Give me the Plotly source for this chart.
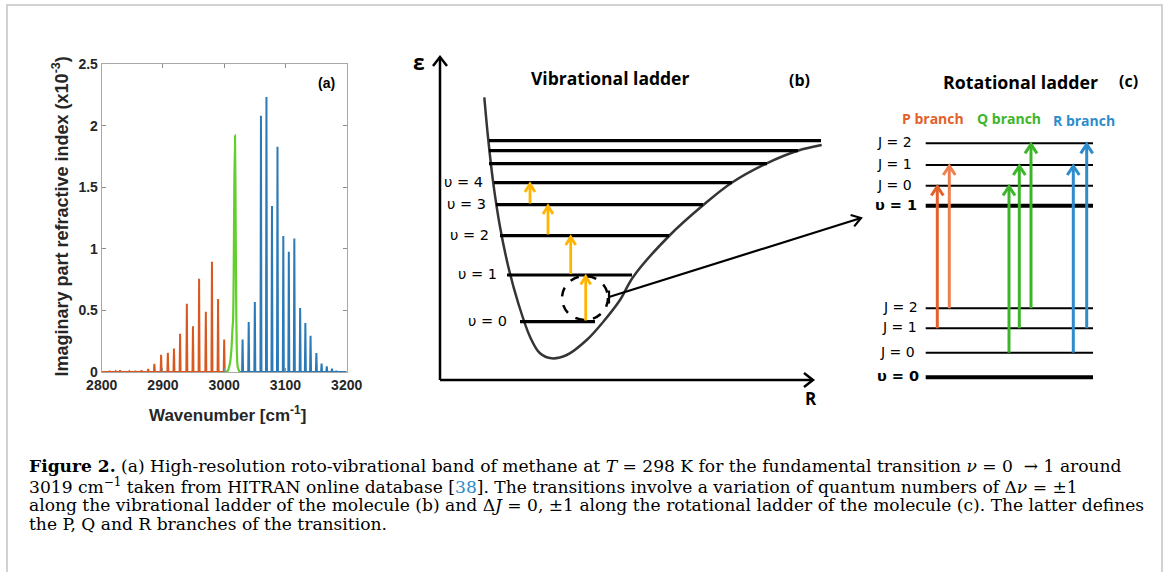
import plotly.graph_objects as go

W, H = 1167, 572

# ---------------- Panel (a) data : spectrum ----------------
p_branch_wn = [2813, 2823, 2830, 2845, 2855, 2865, 2876, 2886, 2897, 2908, 2918, 2928,
               2939, 2949, 2959, 2970, 2980, 2990, 3000]
p_branch_int = [0.008, 0.006, 0.015, 0.006, 0.01, 0.015, 0.025, 0.067, 0.14, 0.155, 0.19,
                0.31, 0.553, 0.371, 0.756, 0.489, 0.895, 0.593, 0.264]
q_branch_wn = [3003, 3006, 3008, 3010, 3012, 3013.5, 3014.5, 3015.5, 3016.5, 3017.6,
               3018.5, 3019.5, 3020.5, 3022, 3025]
q_branch_int = [0, 0.01, 0.04, 0.09, 0.2, 0.35, 0.42, 0.8, 1.5, 1.92, 1.4, 0.6, 0.2, 0.04, 0]
r_branch_wn = [3030, 3040, 3050, 3060, 3069, 3078, 3087, 3096.5, 3105.5, 3114.5, 3124,
               3132.5, 3141, 3150.5, 3159, 3167.5, 3176, 3183]
r_branch_int = [0.263, 0.406, 0.569, 2.079, 2.233, 1.347, 1.829, 1.103, 0.976, 1.084, 0.52,
                0.398, 0.295, 0.154, 0.068, 0.046, 0.027, 0.01]
x_ticks = [2800, 2900, 3000, 3100, 3200]
y_ticks = [0, 0.5, 1, 1.5, 2, 2.5]
y_tick_text = ["0", "0.5", "1", "1.5", "2", "2.5"]

# ---------------- Panel (b) data : vibrational ladder (pixel units) ----------------
curve_x = [484.3, 488.3, 493.3, 500, 508.3, 518.3, 530, 540, 551.7, 566.7, 586.7, 603.3,
           620, 633.3, 670, 703.3, 731.7, 766.7, 797.7, 821.7]
curve_y = [97.3, 140, 183.3, 226.7, 266.7, 303.3, 336.7, 353.3, 358.3, 355, 340, 321.7,
           300, 276.7, 235, 205, 182.7, 163.3, 150.7, 145]
vib_level_y = [321.7, 275, 235.7, 204.7, 182.7, 163.7, 150.7, 140.7]
vib_level_x0 = [520, 507, 500, 496, 494, 489, 489, 489]
vib_level_x1 = [595, 632, 669, 703, 732, 767, 798, 821]
vib_labels = ["υ = 0", "υ = 1", "υ = 2", "υ = 3", "υ = 4"]
vib_label_x = [509, 499, 491, 488, 485]
vib_arrow_x = [585.7, 570.7, 548, 530]
vib_arrow_y0 = [320.5, 274, 234.5, 203.5]
vib_arrow_y1 = [276.5, 237, 206, 184]

# ---------------- Panel (c) data : rotational ladder (pixel units) ----------------
rot_level_y = [143.3, 165, 185.7, 205.7, 308.3, 328.3, 352.7, 377.3]
rot_labels = ["J = 2", "J = 1", "J = 0", "υ = 1", "J = 2", "J = 1", "J = 0", "υ = 0"]
rot_label_x = [914, 914, 914, 919, 920, 919, 917, 921]
rot_level_w = [2, 2, 2, 4, 2, 2, 2, 4]
rot_x0, rot_x1 = 925.7, 1093
rot_arrow_x = [937.3, 949.3, 1009, 1019.3, 1031, 1073.3, 1086.7]
rot_arrow_y0 = [328.3, 308.3, 352.7, 328.3, 308.3, 352.7, 328.3]
rot_arrow_y1 = [186.5, 166, 186.5, 166, 144.3, 166, 144.3]
rot_arrow_c = ["#e2612a", "#ee8050", "#3db52a", "#3db52a", "#3db52a", "#2f8ccb", "#2f8ccb"]
branch_names = ["P branch", "Q branch", "R branch"]
branch_x = [932.7, 1009, 1084]
branch_y = [118.3, 118.3, 120]
branch_c = ["#e2612a", "#3db52a", "#2f8ccb"]

ORANGE, GREEN, BLUE = "#d8581f", "#62cf2a", "#2b79b6"


def stick_spectrum(xs, ys, start, end, hw=0.8):
    px, py = [start], [0]
    for x, y in zip(xs, ys):
        px += [x - hw, x, x + hw]
        py += [0, y, 0]
    px.append(end)
    py.append(0)
    return px, py


fig = go.Figure()

ox, oy = stick_spectrum(p_branch_wn, p_branch_int, 2800, 3004)
fig.add_trace(go.Scatter(x=ox, y=oy, mode="lines", line=dict(color=ORANGE, width=2),
                         xaxis="x", yaxis="y", showlegend=False))
bx, by = stick_spectrum(r_branch_wn, r_branch_int, 3024, 3200)
fig.add_trace(go.Scatter(x=bx, y=by, mode="lines", line=dict(color=BLUE, width=2),
                         xaxis="x", yaxis="y", showlegend=False))
fig.add_trace(go.Scatter(x=q_branch_wn, y=q_branch_int, mode="lines",
                         line=dict(color=GREEN, width=2.2, shape="spline", smoothing=0.6),
                         xaxis="x", yaxis="y", showlegend=False))


def chevron_arrows(x0s, y0s, x1s, y1s, hw, hl):
    """shafts + open chevron heads, in overlay pixel coordinates"""
    xs, ys = [], []
    for x0, y0, x1, y1 in zip(x0s, y0s, x1s, y1s):
        dx, dy = x1 - x0, y1 - y0
        L = (dx * dx + dy * dy) ** 0.5
        ux, uy = dx / L, dy / L
        nx, ny = -uy, ux
        bxp, byp = x1 - ux * hl, y1 - uy * hl
        xs += [x0, x1, None, bxp + nx * hw, x1, bxp - nx * hw, None]
        ys += [y0, y1, None, byp + ny * hw, y1, byp - ny * hw, None]
    return xs, ys


ov = dict(xaxis="x2", yaxis="y2", showlegend=False, hoverinfo="skip")

# Panel (b) axes arrows
ax_x, ax_y = chevron_arrows([440, 440], [380, 380], [440, 813], [57, 380], 7, 9)
fig.add_trace(go.Scatter(x=ax_x, y=ax_y, mode="lines", line=dict(color="black", width=2.5), **ov))

# Morse-like potential curve
fig.add_trace(go.Scatter(x=curve_x, y=curve_y, mode="lines",
                         line=dict(color="#353535", width=2.5, shape="spline", smoothing=1.0), **ov))

# vibrational levels
lx, ly = [], []
for x0, x1, y in zip(vib_level_x0, vib_level_x1, vib_level_y):
    lx += [x0, x1, None]
    ly += [y, y, None]
fig.add_trace(go.Scatter(x=lx, y=ly, mode="lines", line=dict(color="black", width=3.2), **ov))

# yellow transition arrows
yx, yy = chevron_arrows(vib_arrow_x, vib_arrow_y0, vib_arrow_x, vib_arrow_y1, 5, 8)
fig.add_trace(go.Scatter(x=yx, y=yy, mode="lines", line=dict(color="#ffb400", width=2.8), **ov))

# connecting line to panel (c)
cx, cy = chevron_arrows([609], [297], [861], [218], 6, 9)
fig.add_trace(go.Scatter(x=cx + [609, 609], y=cy + [290.5, 303.5], mode="lines",
                         line=dict(color="black", width=2.2), **ov))

# rotational levels
for y, w in zip(rot_level_y, rot_level_w):
    fig.add_trace(go.Scatter(x=[rot_x0, rot_x1], y=[y, y], mode="lines",
                             line=dict(color="black", width=w), **ov))

# rotational arrows
for x, y0, y1, c in zip(rot_arrow_x, rot_arrow_y0, rot_arrow_y1, rot_arrow_c):
    rx, ry = chevron_arrows([x], [y0], [x], [y1], 6, 9)
    fig.add_trace(go.Scatter(x=rx, y=ry, mode="lines", line=dict(color=c, width=3), **ov))

shapes = [
    # outer frame
    dict(type="rect", xref="x2", yref="y2", x0=7, x1=1162, y0=5, y1=590,
         line=dict(color="#c4c4c4", width=1.5)),
    # dashed circle
    dict(type="circle", xref="x2", yref="y2", x0=585 - 23, x1=585 + 23, y0=298 - 22,
         y1=298 + 22, line=dict(color="black", width=2.5, dash="dash")),
]

ann = []
SANS = "Open Sans, Noto Sans, sans-serif"


def A(x, y, text, size, color="black", family=SANS, xanchor="center", bold=False, **kw):
    ann.append(dict(x=x, y=y, xref="x2", yref="y2", text=text, showarrow=False,
                    xanchor=xanchor, yanchor="middle",
                    font=dict(size=size, color=color, family=family,
                              weight="bold" if bold else "normal"), **kw))


# panel (a) labels
A(326.5, 83, "(a)", 14, bold=True, family="Liberation Sans, Arial")
A(61, 216.5, "Imaginary part refractive index (x10<sup>-3</sup>)", 18, color="#262626",
  family="Liberation Sans, Arial", bold=True, textangle=-90)
A(227, 414, "Wavenumber [cm<sup>-1</sup>]", 17, color="#262626",
  family="Liberation Sans, Arial", bold=True)

# panel (b) labels
A(419, 62, "ε", 21, bold=True)
A(811, 398, "R", 17, bold=True)
A(610, 78, "Vibrational ladder", 17.5, bold=True)
A(799, 80, "(b)", 16, bold=True)
for t, x, y in zip(vib_labels, vib_label_x, vib_level_y):
    A(x, y - 1, t, 14.5, xanchor="right", family="DejaVu Sans, sans-serif")

# panel (c) labels
A(1020, 81.7, "Rotational ladder", 17.8, bold=True)
A(1128, 81, "(c)", 16, bold=True)
for t, x, y in zip(rot_labels, rot_label_x, rot_level_y):
    A(x, y - 1, t, 14 if t.startswith("J") else 14.5, xanchor="right",
      family="DejaVu Sans, sans-serif", bold=t.startswith("υ"))
for t, x, y, c in zip(branch_names, branch_x, branch_y, branch_c):
    A(x, y, t, 14, color=c, bold=True)

# caption
caption = [
    "<b>Figure 2.</b> (a) High-resolution roto-vibrational band of methane at <i>T</i> = 298 K "
    "for the fundamental transition <i>ν</i> = 0  → 1 around",
    "3019 cm<sup>−1</sup> taken from HITRAN online database [<span style='color:#2b8bc9'>38</span>]. "
    "The transitions involve a variation of quantum numbers of Δ<i>ν</i> = ±1",
    "along the vibrational ladder of the molecule (b) and Δ<i>J</i> = 0, ±1 along the rotational "
    "ladder of the molecule (c). The latter defines",
    "the P, Q and R branches of the transition.",
]
cap_y = [466, 485.5, 505, 524]
for t, y in zip(caption, cap_y):
    A(27, y, t, 17.1, family="DejaVu Serif, serif", xanchor="left")

axis_font = dict(family="Liberation Sans, Arial", size=14, color="#262626", weight="bold")
fig.update_layout(
    width=W, height=H, margin=dict(l=0, r=0, t=0, b=0, pad=0, autoexpand=False),
    paper_bgcolor="white", plot_bgcolor="rgba(0,0,0,0)", showlegend=False,
    xaxis=dict(domain=[101.7 / W, 346.7 / W], range=[2800, 3200], tickvals=x_ticks,
               ticks="inside", ticklen=4, tickcolor="#8c8c8c", showline=True,
               linecolor="#a8a8a8", linewidth=1, mirror="ticks", showgrid=False,
               zeroline=False, anchor="y", automargin=False, tickfont=axis_font),
    yaxis=dict(domain=[1 - 372 / H, 1 - 64 / H], range=[0, 2.5], tickvals=y_ticks,
               ticktext=y_tick_text, ticks="inside", ticklen=4, tickcolor="#8c8c8c",
               showline=True, linecolor="#a8a8a8", linewidth=1, mirror="ticks",
               showgrid=False, zeroline=False, anchor="x", automargin=False,
               tickfont=axis_font),
    xaxis2=dict(domain=[0, 1], range=[0, W], visible=False, anchor="y2", fixedrange=True,
                automargin=False),
    yaxis2=dict(domain=[0, 1], range=[H, 0], visible=False, anchor="x2", fixedrange=True,
                automargin=False),
    shapes=shapes, annotations=ann,
)

fig.write_html("out.html")
